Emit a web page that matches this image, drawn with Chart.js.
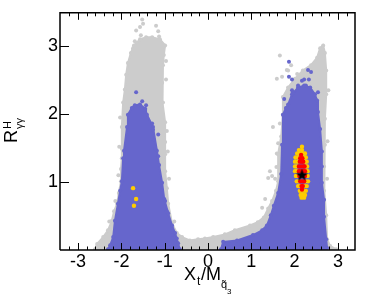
<!DOCTYPE html>
<html>
<head>
<meta charset="utf-8">
<style>
  html, body { margin: 0; padding: 0; background: #fff; }
  canvas { display: block; }
</style>
<script src="https://cdn.jsdelivr.net/npm/chart.js@4/dist/chart.umd.min.js"></script>
</head>
<body>
<canvas id="scanChart" width="374" height="298"></canvas>
<script>
// outline of the grey cloud [Xt/Mq, R]
const greyOutline = [
  [-2.61,0.01],[-2.56,0.09],[-2.42,0.19],[-2.31,0.29],[-2.22,0.43],[-2.17,0.57],[-2.10,0.68],[-2.06,0.84],
  [-2.01,1.01],[-2.01,1.19],[-1.99,1.35],[-1.99,1.49],[-1.99,1.81],[-1.96,2.17],[-1.92,2.36],[-1.89,2.58],
  [-1.85,2.75],[-1.78,2.90],[-1.71,3.01],[-1.57,3.10],[-1.43,3.13],[-1.29,3.13],[-1.11,3.10],[-0.99,3.01],
  [-1.02,2.87],[-1.04,2.72],[-1.06,2.46],[-1.04,2.17],[-0.99,1.88],[-0.99,1.59],[-0.99,1.41],[-0.99,1.16],
  [-0.95,0.91],[-0.92,0.68],[-0.83,0.39],[-0.72,0.25],[-0.60,0.19],[-0.42,0.14],[-0.23,0.16],[-0.07,0.17],
  [0.12,0.19],[0.39,0.23],[0.62,0.29],[0.97,0.36],[1.15,0.41],[1.29,0.48],[1.39,0.61],[1.48,0.72],
  [1.57,0.87],[1.62,1.01],[1.62,1.23],[1.62,1.41],[1.69,1.67],[1.73,1.99],[1.73,2.25],[1.85,2.39],
  [2.01,2.52],[2.19,2.64],[2.38,2.72],[2.52,2.83],[2.59,2.97],[2.66,3.01],[2.70,2.90],[2.73,2.64],
  [2.73,2.29],[2.70,1.93],[2.70,1.55],[2.68,1.23],[2.68,0.87],[2.73,0.51],[2.75,0.16],[2.82,0.06],[2.96,0.01]
];
const greyStray = [
  [-1.52,3.39],[-1.50,3.33],[-1.57,3.28],[-1.66,3.23],[-1.20,3.30],[-1.15,3.22],[-1.13,3.14],[-1.55,3.16],
  [-1.69,3.07],[-1.73,2.97],[-0.97,2.78],[-0.97,2.51],[-0.85,0.39],[-0.95,1.75],[-0.93,1.45],[-0.90,1.05],
  [-2.07,1.10],[-2.05,1.52],[-2.03,1.95],[-2.14,0.72],[-2.28,0.42],[-0.78,0.42],
  [1.66,2.86],[1.59,2.52],[1.71,2.55],[1.82,2.65],[1.92,2.72],[2.06,2.59],[1.85,2.64],
  [1.43,1.16],[1.39,1.06],[1.48,1.09],[1.59,1.42],[1.62,1.57],[1.50,1.81],[1.66,1.86],[1.32,0.75],[1.25,0.62],
  [2.78,2.35],[2.76,1.60],[2.75,1.05],[1.58,1.22],[1.55,1.05]
];
const blueLeftOutline = [
  [-2.31,0.01],[-2.26,0.07],[-2.19,0.19],[-2.15,0.43],[-2.08,0.68],[-2.03,0.87],[-1.99,1.01],[-1.96,1.35],
  [-1.94,1.46],[-1.87,1.81],[-1.85,1.99],[-1.76,2.09],[-1.69,2.13],[-1.57,2.14],[-1.45,2.08],[-1.41,1.99],
  [-1.27,1.81],[-1.18,1.46],[-1.13,1.25],[-1.06,0.99],[-1.01,0.75],[-0.92,0.54],[-0.83,0.36],[-0.76,0.25],
  [-0.69,0.10],[-0.65,0.01]
];
const blueRightOutline = [
  [0.30,0.01],[0.35,0.12],[0.67,0.14],[1.04,0.22],[1.25,0.29],[1.36,0.36],[1.45,0.51],[1.52,0.65],
  [1.62,0.84],[1.69,1.12],[1.71,1.55],[1.73,1.99],[1.80,2.09],[1.85,2.14],[1.94,2.29],[2.08,2.39],
  [2.22,2.42],[2.36,2.39],[2.47,2.29],[2.52,2.20],[2.54,2.03],[2.59,1.78],[2.63,1.45],[2.63,1.23],
  [2.63,0.99],[2.68,0.74],[2.68,0.49],[2.73,0.16],[2.75,0.03]
];
const blueStray = [
  [-1.66,2.32],[-1.52,2.19],[-1.43,2.13],[-1.45,2.06],[-1.29,1.86],[-1.15,1.70],[-1.27,1.77],[-1.25,1.62],
  [-1.22,1.49],[-1.15,1.38],[-0.95,0.57],[-0.99,0.72],[-0.72,0.17],[-0.83,0.22],
  [1.87,2.77],[2.31,2.65],[2.38,2.62],[1.87,2.55],[1.94,2.51],[2.33,2.51],[2.22,2.51],[2.17,2.49],
  [2.26,2.42],[2.08,2.42],[1.94,2.35],[1.96,2.32],[2.54,2.32],[1.76,2.22]
];
const yellowPoints = [
  [-1.73,0.91],[-1.66,0.75],[-1.71,0.65],
  [2.17,1.52],[2.10,1.47],[2.17,1.47],[2.06,1.42],[2.12,1.42],[2.19,1.42],[2.24,1.42],
  [2.02,1.36],[2.08,1.36],[2.15,1.36],[2.22,1.36],[2.26,1.36],[2.01,1.30],[2.07,1.30],[2.24,1.30],[2.28,1.30],
  [2.01,1.23],[2.05,1.23],[2.27,1.23],[2.29,1.23],[2.01,1.16],[2.05,1.16],[2.27,1.16],[2.30,1.16],
  [2.03,1.09],[2.07,1.09],[2.27,1.09],[2.30,1.09],[2.05,1.01],[2.10,1.01],[2.25,1.01],[2.31,1.01],
  [2.08,0.94],[2.13,0.94],[2.22,0.94],[2.28,0.94],[2.12,0.87],[2.17,0.87],[2.22,0.87],[2.26,0.87],
  [2.14,0.81],[2.18,0.81],[2.24,0.81],[2.16,0.77],[2.22,0.77]
];
const redPoints = [
  [2.15,1.40],[2.13,1.35],[2.18,1.35],[2.12,1.30],[2.17,1.30],[2.20,1.30],
  [2.10,1.23],[2.15,1.23],[2.20,1.23],[2.23,1.23],[2.10,1.16],[2.15,1.16],[2.20,1.16],[2.24,1.16],
  [2.11,1.09],[2.15,1.09],[2.20,1.09],[2.24,1.09],[2.13,1.01],[2.18,1.01],[2.22,1.01],[2.16,0.94],[2.19,0.94],[2.17,0.89]
];
const bestPoint = [[2.17, 1.10]];

const xTicks = [-3.2,-3,-2.8,-2.6,-2.4,-2.2,-2,-1.8,-1.6,-1.4,-1.2,-1,-0.8,-0.6,-0.4,-0.2,0,
  0.2,0.4,0.6,0.8,1,1.2,1.4,1.6,1.8,2,2.2,2.4,2.6,2.8,3,3.2];
const yTicks = [1, 2, 3];

const GREY = "#cccccc";
const BLUE = "#6666cc";
const YELLOW = "#ffcc00";
const RED = "#ff0000";
const FONT = '"Liberation Sans", Arial, sans-serif';

function toXY(list) {
  return list.map((p) => ({ x: p[0], y: p[1] }));
}

function cloud(list, color, order) {
  return {
    data: toXY(list),
    order: order,
    showLine: true,
    fill: { value: 0 },
    backgroundColor: color,
    borderColor: color,
    borderWidth: 2,
    pointBackgroundColor: color,
    pointBorderWidth: 0,
    pointRadius: 2,
  };
}

function dots(list, color, radius, order) {
  return {
    data: toXY(list),
    order: order,
    showLine: false,
    backgroundColor: color,
    pointBorderWidth: 0,
    pointRadius: radius,
  };
}

// five pointed star for the best fit point
function starImage(size) {
  const c = document.createElement("canvas");
  c.width = size;
  c.height = size;
  const g = c.getContext("2d");
  g.fillStyle = "#000";
  g.beginPath();
  for (let i = 0; i < 10; i++) {
    const r = i % 2 ? size * 0.2 : size * 0.5;
    const a = -Math.PI / 2 + (i * Math.PI) / 5;
    g.lineTo(size / 2 + r * Math.cos(a), size / 2 + r * Math.sin(a));
  }
  g.closePath();
  g.fill();
  return c;
}

// inner ticks, frame and the axis titles with sub/superscripts
const frameAndTitles = {
  id: "frameAndTitles",
  afterDatasetsDraw(chart) {
    const ctx = chart.ctx;
    const a = chart.chartArea;
    const sx = chart.scales.x;
    const sy = chart.scales.y;
    ctx.save();
    ctx.strokeStyle = "#000";
    ctx.lineWidth = 1;
    xTicks.forEach((v) => {
      const px = Math.round(sx.getPixelForValue(v)) + 0.5;
      const len = Number.isInteger(v) ? 7 : 3.5;
      ctx.beginPath();
      ctx.moveTo(px, a.bottom);
      ctx.lineTo(px, a.bottom - len);
      ctx.moveTo(px, a.top);
      ctx.lineTo(px, a.top + len);
      ctx.stroke();
    });
    yTicks.forEach((v) => {
      const py = Math.round(sy.getPixelForValue(v)) + 0.5;
      ctx.beginPath();
      ctx.moveTo(a.left, py);
      ctx.lineTo(a.left + 9, py);
      ctx.stroke();
    });
    ctx.lineWidth = 1.5;
    ctx.beginPath();
    ctx.moveTo(a.left, a.bottom);
    ctx.lineTo(a.left, a.top);
    ctx.lineTo(a.right, a.top);
    ctx.lineTo(a.right, a.bottom);
    ctx.lineTo(a.left, a.bottom);
    ctx.stroke();

    ctx.fillStyle = "#000";
    ctx.textBaseline = "alphabetic";
    ctx.textAlign = "left";
    // x title
    ctx.font = "18px " + FONT;
    ctx.fillText("X", 184, 280);
    ctx.fillText("/M", 201, 280);
    ctx.font = "12px " + FONT;
    ctx.fillText("t", 197, 285);
    ctx.font = "11px " + FONT;
    ctx.fillText("q\u0303", 221, 288);
    ctx.font = "8px " + FONT;
    ctx.fillText("3", 227, 294);
    // y title
    ctx.translate(17, 143);
    ctx.rotate(-Math.PI / 2);
    ctx.font = "18px " + FONT;
    ctx.fillText("R", 0, 0);
    ctx.font = "11px " + FONT;
    ctx.fillText("H", 14, -6);
    ctx.font = "11px " + FONT;
    ctx.fillText("\u03b3\u03b3", 14, 6);
    ctx.restore();
  },
};

new Chart(document.getElementById("scanChart").getContext("2d"), {
  type: "scatter",
  data: {
    datasets: [
      dots(greyStray, GREY, 2, 8),
      cloud(greyOutline, GREY, 7),
      cloud(blueLeftOutline, BLUE, 6),
      cloud(blueRightOutline, BLUE, 5),
      dots(blueStray, BLUE, 2, 4),
      dots(yellowPoints, YELLOW, 2.2, 3),
      dots(redPoints, RED, 2.2, 2),
      {
        data: toXY(bestPoint),
        order: 1,
        showLine: false,
        pointStyle: starImage(13),
      },
    ],
  },
  options: {
    responsive: false,
    animation: false,
    events: [],
    layout: { padding: { top: 9, right: 19, left: 0, bottom: 0 } },
    plugins: { legend: { display: false }, tooltip: { enabled: false } },
    scales: {
      x: {
        min: -3.418,
        max: 3.395,
        grid: { display: false, drawTicks: false },
        border: { display: false },
        afterBuildTicks: (scale) => {
          scale.ticks = xTicks.map((v) => ({ value: v }));
        },
        afterFit: (scale) => {
          scale.height = 48;
        },
        ticks: {
          autoSkip: false,
          maxRotation: 0,
          padding: 1,
          color: "#000",
          font: { family: FONT, size: 18 },
          callback: (v) => (Number.isInteger(v) ? String(v) : ""),
        },
      },
      y: {
        min: 0,
        max: 3.49,
        grid: { display: false, drawTicks: false },
        border: { display: false },
        afterBuildTicks: (scale) => {
          scale.ticks = yTicks.map((v) => ({ value: v }));
        },
        afterFit: (scale) => {
          scale.width = 60;
        },
        ticks: {
          padding: 2,
          color: "#000",
          font: { family: FONT, size: 18 },
        },
      },
    },
  },
  plugins: [frameAndTitles],
});
</script>
</body>
</html>
